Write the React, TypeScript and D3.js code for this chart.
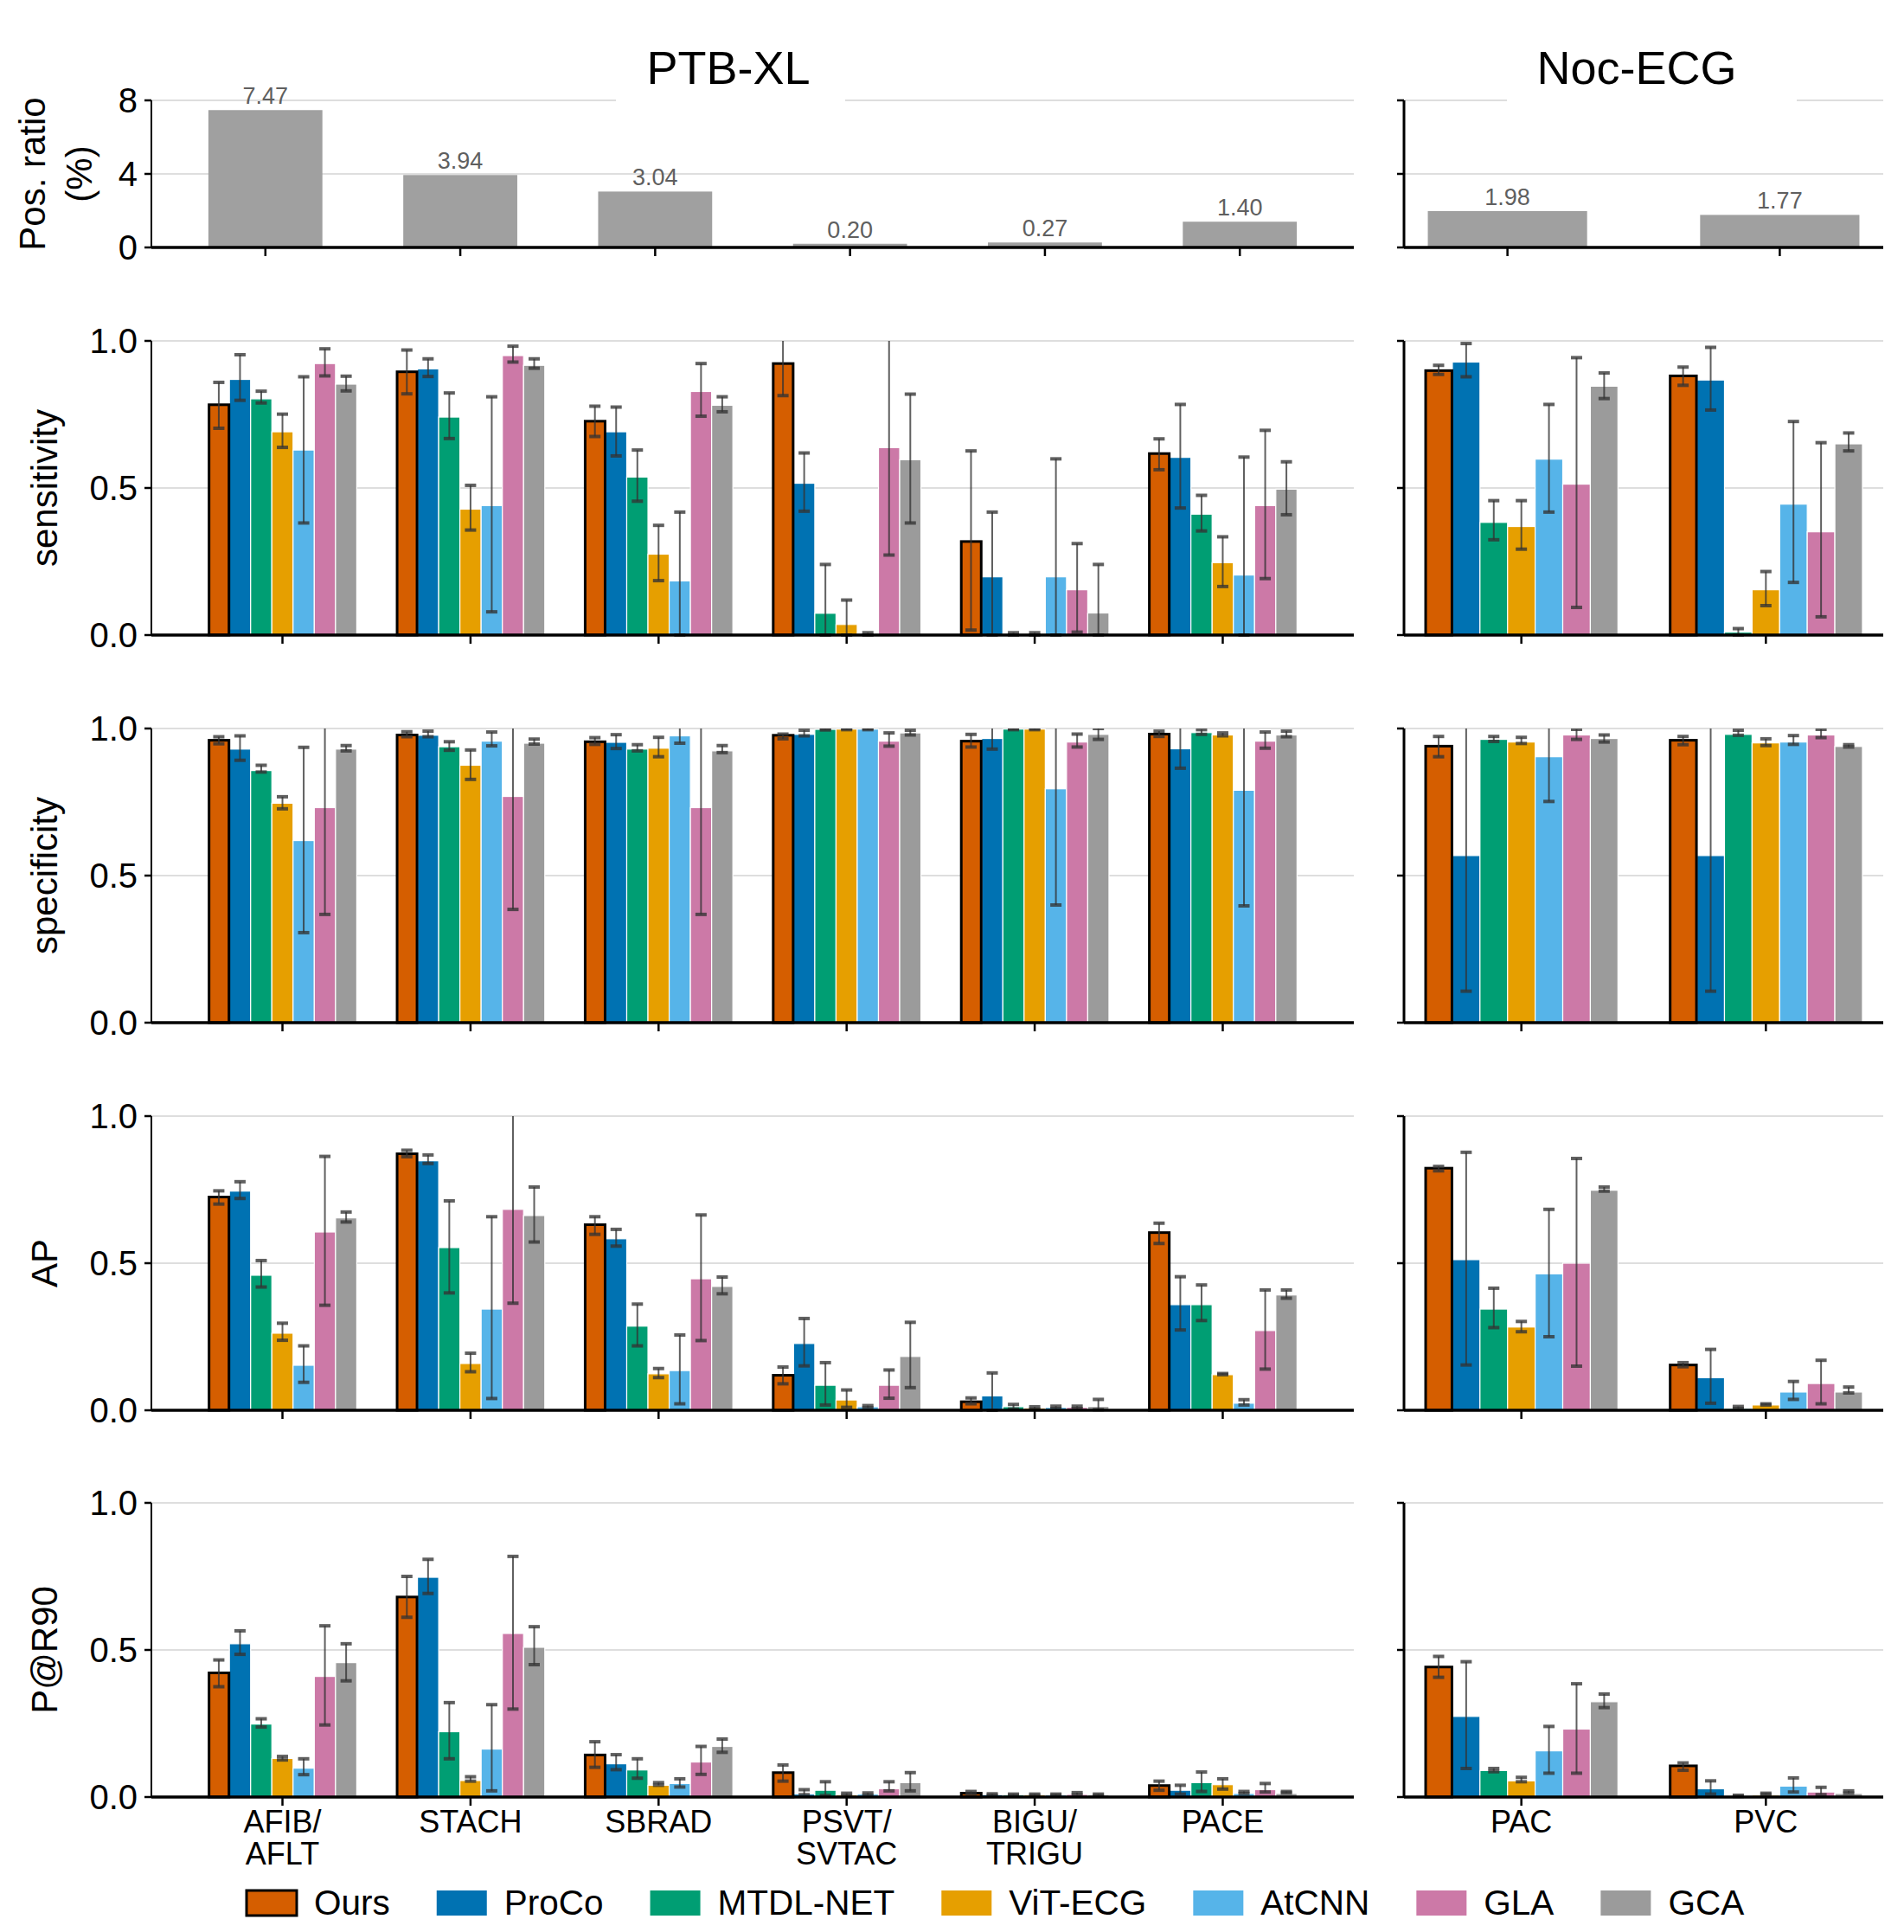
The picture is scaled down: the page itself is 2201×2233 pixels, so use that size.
import React from 'react';
import * as d3 from 'd3';

const methods = ['Ours', 'ProCo', 'MTDL-NET', 'ViT-ECG', 'AtCNN', 'GLA', 'GCA'];
const colors = ['#D55E00', '#0072B2', '#009E73', '#E69F00', '#56B4E9', '#CC79A7', '#9B9B9B'];

const ptbCats = ['AFIB/\nAFLT', 'STACH', 'SBRAD', 'PSVT/\nSVTAC', 'BIGU/\nTRIGU', 'PACE'];
const nocCats = ['PAC', 'PVC'];

const ptbPosRatio = [7.47, 3.94, 3.04, 0.2, 0.27, 1.4];
const nocPosRatio = [1.98, 1.77];

// one row per category (6 PTB-XL, then PAC, PVC); each method: [mean, lower, upper]
const sensitivity = [
  [[0.783, 0.703, 0.859], [0.869, 0.798, 0.953], [0.803, 0.789, 0.829], [0.691, 0.638, 0.751], [0.629, 0.381, 0.878], [0.923, 0.881, 0.973], [0.853, 0.83, 0.88]],
  [[0.895, 0.82, 0.969], [0.905, 0.879, 0.939], [0.741, 0.668, 0.823], [0.428, 0.357, 0.509], [0.44, 0.079, 0.81], [0.95, 0.928, 0.982], [0.917, 0.907, 0.939]],
  [[0.727, 0.675, 0.778], [0.691, 0.609, 0.775], [0.537, 0.455, 0.629], [0.275, 0.185, 0.373], [0.184, 0.0, 0.418], [0.828, 0.744, 0.923], [0.781, 0.759, 0.81]],
  [[0.923, 0.814, 1.06], [0.516, 0.421, 0.619], [0.074, 0.0, 0.24], [0.036, 0.0, 0.119], [0.004, 0.0, 0.008], [0.637, 0.272, 1.05], [0.596, 0.381, 0.819]],
  [[0.318, 0.017, 0.626], [0.198, 0.0, 0.418], [0.004, 0.0, 0.008], [0.004, 0.0, 0.008], [0.198, 0.0, 0.599], [0.154, 0.01, 0.311], [0.075, 0.0, 0.24]],
  [[0.617, 0.562, 0.667], [0.604, 0.432, 0.784], [0.411, 0.354, 0.475], [0.246, 0.165, 0.334], [0.204, 0.0, 0.605], [0.44, 0.192, 0.696], [0.496, 0.409, 0.589]],
  [[0.899, 0.886, 0.917], [0.928, 0.878, 0.991], [0.383, 0.324, 0.457], [0.369, 0.292, 0.457], [0.598, 0.418, 0.784], [0.513, 0.094, 0.943], [0.846, 0.804, 0.891]],
  [[0.881, 0.849, 0.911], [0.867, 0.765, 0.978], [0.01, 0.0, 0.022], [0.154, 0.1, 0.216], [0.445, 0.179, 0.726], [0.351, 0.062, 0.654], [0.65, 0.626, 0.687]],
];

const specificity = [
  [[0.96, 0.948, 0.972], [0.93, 0.892, 0.975], [0.857, 0.852, 0.875], [0.746, 0.727, 0.768], [0.619, 0.306, 0.936], [0.731, 0.368, 1.09], [0.93, 0.924, 0.942]],
  [[0.978, 0.972, 0.989], [0.977, 0.972, 0.991], [0.938, 0.926, 0.955], [0.875, 0.827, 0.927], [0.957, 0.941, 0.988], [0.769, 0.385, 1.15], [0.95, 0.947, 0.964]],
  [[0.955, 0.946, 0.969], [0.953, 0.932, 0.979], [0.93, 0.924, 0.945], [0.933, 0.904, 0.97], [0.975, 0.95, 1.01], [0.731, 0.368, 1.09], [0.924, 0.918, 0.942]],
  [[0.977, 0.965, 0.981], [0.98, 0.975, 0.994], [0.997, 0.995, 0.999], [0.998, 0.996, 1.0], [0.998, 0.996, 1.0], [0.957, 0.94, 0.985], [0.985, 0.978, 0.994]],
  [[0.957, 0.937, 0.98], [0.966, 0.93, 1.01], [0.998, 0.996, 1.0], [0.998, 0.996, 1.0], [0.795, 0.4, 1.19], [0.954, 0.937, 0.981], [0.98, 0.963, 1.0]],
  [[0.981, 0.973, 0.991], [0.931, 0.865, 1.02], [0.986, 0.98, 0.996], [0.978, 0.975, 0.985], [0.79, 0.397, 1.18], [0.957, 0.933, 0.988], [0.978, 0.972, 0.991]],
  [[0.94, 0.904, 0.973], [0.568, 0.107, 1.03], [0.963, 0.956, 0.973], [0.954, 0.949, 0.97], [0.904, 0.752, 1.05], [0.978, 0.963, 0.997], [0.966, 0.954, 0.978]],
  [[0.96, 0.945, 0.973], [0.568, 0.107, 1.03], [0.98, 0.977, 0.994], [0.951, 0.942, 0.965], [0.954, 0.946, 0.976], [0.978, 0.969, 0.997], [0.939, 0.937, 0.945]],
];

const averagePrecision = [
  [[0.725, 0.701, 0.746], [0.745, 0.72, 0.777], [0.459, 0.419, 0.509], [0.262, 0.238, 0.296], [0.153, 0.095, 0.219], [0.606, 0.357, 0.863], [0.654, 0.64, 0.674]],
  [[0.872, 0.862, 0.884], [0.848, 0.839, 0.868], [0.553, 0.399, 0.712], [0.159, 0.131, 0.194], [0.344, 0.04, 0.658], [0.683, 0.364, 1.05], [0.662, 0.572, 0.759]],
  [[0.631, 0.598, 0.658], [0.583, 0.558, 0.615], [0.286, 0.219, 0.361], [0.124, 0.111, 0.142], [0.135, 0.022, 0.256], [0.447, 0.237, 0.664], [0.421, 0.396, 0.453]],
  [[0.119, 0.09, 0.147], [0.227, 0.151, 0.312], [0.085, 0.018, 0.162], [0.035, 0.01, 0.069], [0.012, 0.008, 0.016], [0.085, 0.041, 0.137], [0.183, 0.077, 0.299]],
  [[0.029, 0.022, 0.042], [0.049, 0.0, 0.127], [0.012, 0.004, 0.02], [0.008, 0.004, 0.012], [0.01, 0.006, 0.014], [0.01, 0.006, 0.014], [0.013, 0.002, 0.037]],
  [[0.604, 0.567, 0.636], [0.359, 0.273, 0.454], [0.359, 0.305, 0.426], [0.121, 0.121, 0.125], [0.024, 0.018, 0.036], [0.271, 0.14, 0.409], [0.392, 0.381, 0.409]],
  [[0.823, 0.814, 0.829], [0.512, 0.154, 0.877], [0.344, 0.281, 0.415], [0.283, 0.267, 0.302], [0.464, 0.25, 0.683], [0.5, 0.15, 0.856], [0.748, 0.745, 0.759]],
  [[0.154, 0.148, 0.162], [0.111, 0.024, 0.207], [0.006, 0.006, 0.013], [0.018, 0.018, 0.022], [0.062, 0.037, 0.098], [0.091, 0.022, 0.17], [0.062, 0.059, 0.079]],
];

const precisionAtR90 = [
  [[0.422, 0.375, 0.466], [0.521, 0.485, 0.565], [0.248, 0.238, 0.266], [0.131, 0.126, 0.138], [0.098, 0.076, 0.13], [0.41, 0.245, 0.582], [0.457, 0.395, 0.521]],
  [[0.68, 0.611, 0.75], [0.747, 0.692, 0.808], [0.222, 0.13, 0.321], [0.056, 0.054, 0.069], [0.163, 0.021, 0.314], [0.556, 0.299, 0.818], [0.509, 0.45, 0.579]],
  [[0.143, 0.101, 0.188], [0.113, 0.093, 0.144], [0.092, 0.064, 0.13], [0.04, 0.04, 0.049], [0.046, 0.034, 0.062], [0.119, 0.077, 0.172], [0.172, 0.152, 0.197]],
  [[0.083, 0.054, 0.109], [0.01, 0.008, 0.025], [0.023, 0.005, 0.052], [0.007, 0.005, 0.013], [0.01, 0.006, 0.014], [0.028, 0.021, 0.052], [0.049, 0.021, 0.083]],
  [[0.013, 0.01, 0.019], [0.008, 0.006, 0.011], [0.007, 0.005, 0.01], [0.007, 0.005, 0.01], [0.007, 0.005, 0.01], [0.009, 0.007, 0.015], [0.007, 0.005, 0.01]],
  [[0.039, 0.023, 0.054], [0.023, 0.01, 0.04], [0.049, 0.019, 0.085], [0.042, 0.027, 0.062], [0.012, 0.012, 0.019], [0.025, 0.017, 0.046], [0.012, 0.014, 0.019]],
  [[0.442, 0.407, 0.478], [0.274, 0.097, 0.46], [0.09, 0.086, 0.097], [0.055, 0.052, 0.067], [0.157, 0.081, 0.24], [0.231, 0.081, 0.385], [0.324, 0.304, 0.35]],
  [[0.106, 0.091, 0.116], [0.028, 0.01, 0.055], [0.004, 0.002, 0.006], [0.006, 0.008, 0.013], [0.037, 0.017, 0.065], [0.017, 0.008, 0.033], [0.012, 0.013, 0.021]],
];

const W = 2201, H = 2233;
const FONT = '"Liberation Sans", Arial, Helvetica, sans-serif';

const panels = [
  { key: 'ptb', title: 'PTB-XL', cats: ptbCats, ratio: ptbPosRatio, offset: 0, x0: 175, x1: 1565, padTop: 0.585, padMetric: 0.697, titleX: 842, gap: [712, 977] },
  { key: 'noc', title: 'Noc-ECG', cats: nocCats, ratio: nocPosRatio, offset: 6, x0: 1623, x1: 2177, padTop: 0.38, padMetric: 0.48, titleX: 1892, gap: [1742, 2077] },
];

const metricRows = [
  { label: 'sensitivity', data: sensitivity, top: 394 },
  { label: 'specificity', data: specificity, top: 842 },
  { label: 'AP', data: averagePrecision, top: 1290 },
  { label: 'P@R90', data: precisionAtR90, top: 1737 },
];
const ROW_H = 340;
const TOP_ROW = { top: 116, bottom: 286 };

const measure = (() => {
  const ctx = document.createElement('canvas').getContext('2d');
  return (t, f) => {
    if (!ctx) return t.length * 20;
    ctx.font = f;
    return ctx.measureText(t).width;
  };
})();

const ErrBar = ({ x, y1, y2 }) => {
  const c = '#333';
  return (
    <g stroke={c} strokeOpacity={0.78}>
      <line x1={x} x2={x} y1={y1} y2={y2} strokeWidth={2} />
      <line x1={x - 6.5} x2={x + 6.5} y1={y1} y2={y1} strokeWidth={4} />
      <line x1={x - 6.5} x2={x + 6.5} y1={y2} y2={y2} strokeWidth={4} />
    </g>
  );
};

const App = () => {
  const legendFont = `40.5px ${FONT}`;
  let lx = 285;
  const legendItems = methods.map((m, i) => {
    const item = { m, i, x: lx };
    lx += 58 + 20 + measure(m, legendFont) + 54;
    return item;
  });

  return (
    <svg width={W} height={H} style={{ position: 'absolute', left: 0, top: 0, background: '#fff' }} fontFamily={FONT}>
      <defs>
        {metricRows.map((r, ri) => (
          <clipPath id={`clip${ri}`} key={ri}>
            <rect x={0} y={r.top} width={W} height={ROW_H + 2} />
          </clipPath>
        ))}
      </defs>

      {/* top row: positive ratio */}
      {panels.map(p => {
        const x = d3.scalePoint().domain(p.cats).range([p.x0, p.x1]).padding(p.padTop);
        const y = d3.scaleLinear().domain([0, 8]).range([TOP_ROW.bottom, TOP_ROW.top]);
        const bw = x.step() * 0.585;
        return (
          <g key={p.key + 'top'}>
            {[4, 8].map(t => (
              <line key={t} x1={p.x0} x2={p.x1} y1={y(t)} y2={y(t)} stroke="#dedede" strokeWidth={2} />
            ))}
            <rect x={p.gap[0]} y={40} width={p.gap[1] - p.gap[0]} height={80} fill="#fff" />
            <text x={p.titleX} y={97} fontSize={54} textAnchor="middle" fill="#000">{p.title}</text>
            {p.cats.map((c, i) => (
              <g key={c}>
                <rect x={x(c) - bw / 2} y={y(p.ratio[i])} width={bw} height={y(0) - y(p.ratio[i])} fill="#a0a0a0" />
                <text x={x(c)} y={y(p.ratio[i]) - 7} fontSize={27} textAnchor="middle" fill="#5f5f5f">{p.ratio[i].toFixed(2)}</text>
                <line x1={x(c)} x2={x(c)} y1={y(0)} y2={y(0) + 10} stroke="#000" strokeWidth={2.5} />
              </g>
            ))}
            <line x1={p.x0} x2={p.x0} y1={y(8)} y2={y(0)} stroke="#000" strokeWidth={p.key === 'ptb' ? 2 : 3} />
            <line x1={p.x0} x2={p.x1} y1={y(0)} y2={y(0)} stroke="#000" strokeWidth={3.5} />
            {[0, 4, 8].map(t => (
              <g key={t}>
                <line x1={p.x0 - 8} x2={p.x0} y1={y(t)} y2={y(t)} stroke="#000" strokeWidth={2.5} />
                {p.key === 'ptb' && (
                  <text x={p.x0 - 16} y={y(t)} dy="0.36em" fontSize={40} textAnchor="end">{t}</text>
                )}
              </g>
            ))}
          </g>
        );
      })}
      <g transform={`translate(0, ${(TOP_ROW.top + TOP_ROW.bottom) / 2}) rotate(-90)`} fontSize={42} textAnchor="middle">
        <text x={0} y={52}>Pos. ratio</text>
        <text x={0} y={106}>(%)</text>
      </g>

      {/* metric rows */}
      {metricRows.map((r, ri) => {
        const y = d3.scaleLinear().domain([0, 1]).range([r.top + ROW_H, r.top]);
        const isLast = ri === metricRows.length - 1;
        return (
          <g key={r.label}>
            {panels.map(p => {
              const x = d3.scalePoint().domain(p.cats).range([p.x0, p.x1]).padding(p.padMetric);
              const gw = x.step() * 0.79;
              const inner = d3.scaleBand().domain(methods).range([-gw / 2, gw / 2]);
              const bw = inner.bandwidth();
              return (
                <g key={p.key}>
                  {[0.5, 1].map(t => (
                    <line key={t} x1={p.x0} x2={p.x1} y1={y(t)} y2={y(t)} stroke="#dedede" strokeWidth={2} />
                  ))}
                  {p.cats.map((c, ci) => {
                    const row = r.data[ci + p.offset];
                    return (
                      <g key={c}>
                        {methods.map((m, mi) => {
                          const v = row[mi][0];
                          const bx = x(c) + inner(m);
                          return mi === 0 ? null : (
                            <rect key={m} x={bx} y={y(v)} width={bw} height={y(0) - y(v)} fill={colors[mi]} stroke="#fff" strokeWidth={1.2} />
                          );
                        })}
                        <rect x={x(c) + inner(methods[0]) + 1} y={y(row[0][0])} width={bw - 1.5} height={y(0) - y(row[0][0])} fill={colors[0]} stroke="#000" strokeWidth={3} />
                        <g clipPath={`url(#clip${ri})`}>
                          {methods.map((m, mi) => (
                            <ErrBar key={m} x={x(c) + inner(m) + bw / 2} y1={y(row[mi][2])} y2={y(row[mi][1])} />
                          ))}
                        </g>
                        <line x1={x(c)} x2={x(c)} y1={y(0)} y2={y(0) + 10} stroke="#000" strokeWidth={2.5} />
                        {isLast && (
                          <text x={x(c)} y={y(0) + 41} fontSize={36} textAnchor="middle">
                            {c.split('\n').map((s, k) => (
                              <tspan key={k} x={x(c)} dy={k === 0 ? 0 : 37}>{s}</tspan>
                            ))}
                          </text>
                        )}
                      </g>
                    );
                  })}
                  <line x1={p.x0} x2={p.x0} y1={y(1)} y2={y(0)} stroke="#000" strokeWidth={p.key === 'ptb' ? 2 : 3} />
                  <line x1={p.x0} x2={p.x1} y1={y(0)} y2={y(0)} stroke="#000" strokeWidth={3.5} />
                  {[0, 0.5, 1].map(t => (
                    <g key={t}>
                      <line x1={p.x0 - 8} x2={p.x0} y1={y(t)} y2={y(t)} stroke="#000" strokeWidth={2.5} />
                      {p.key === 'ptb' && (
                        <text x={p.x0 - 16} y={y(t)} dy="0.36em" fontSize={40} textAnchor="end">{t.toFixed(1)}</text>
                      )}
                    </g>
                  ))}
                </g>
              );
            })}
            <text transform={`translate(66, ${r.top + ROW_H / 2}) rotate(-90)`} fontSize={42} textAnchor="middle">{r.label}</text>
          </g>
        );
      })}

      {/* legend */}
      {legendItems.map(({ m, i, x }) => (
        <g key={m}>
          <rect x={x} y={2185} width={58} height={29} fill={colors[i]} stroke={i === 0 ? '#000' : 'none'} strokeWidth={3} />
          <text x={x + 78} y={2213} fontSize={40.5}>{m}</text>
        </g>
      ))}
    </svg>
  );
};

export default App;
